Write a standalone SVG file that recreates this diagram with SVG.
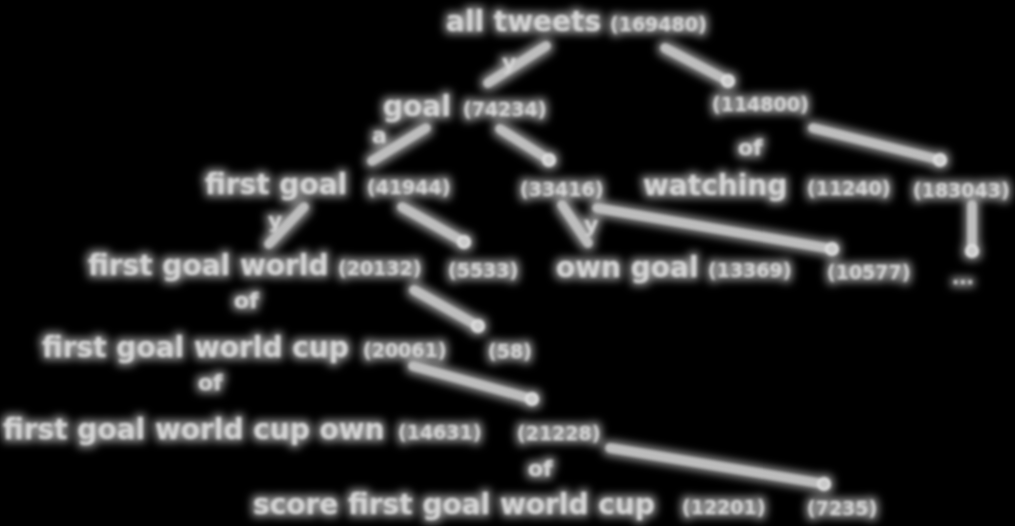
<svg xmlns="http://www.w3.org/2000/svg" width="1015" height="526" viewBox="0 0 1015 526">
<defs>
<filter id="glow" x="-10%" y="-30%" width="120%" height="160%">
<feMorphology in="SourceAlpha" operator="dilate" radius="2.5" result="d"/>
<feGaussianBlur in="d" stdDeviation="4" result="b"/>
<feFlood flood-color="#ffffff" flood-opacity="0.55"/>
<feComposite in2="b" operator="in" result="halo"/>
<feGaussianBlur in="SourceGraphic" stdDeviation="1.4" result="s"/>
<feMerge><feMergeNode in="halo"/><feMergeNode in="s"/></feMerge>
</filter>
<marker id="dot" viewBox="0 0 10 10" refX="5" refY="5" markerWidth="1.6" markerHeight="1.6" markerUnits="strokeWidth">
<circle cx="5" cy="5" r="4" fill="#c8c8c8" stroke="#e8e8e8" stroke-width="1.5"/>
</marker>
</defs>
<style>
text{font-family:"DejaVu Sans","Liberation Sans",sans-serif;font-weight:bold;fill:#d4d4d4}
.w{font-size:28px}
.c{font-size:19px}
.l{font-size:22px}
.e{stroke:#bdbdbd;stroke-width:9;stroke-linecap:round;fill:none}
.ed{marker-end:url(#dot)}
</style>
<rect width="1015" height="526" fill="#000"/>
<g filter="url(#glow)">
<g id="connectors">
<line class="e" x1="546" y1="46" x2="488" y2="83"/>
<line class="e ed" x1="665" y1="48" x2="728" y2="81"/>
<line class="e" x1="426" y1="128" x2="372" y2="161"/>
<line class="e ed" x1="500" y1="129" x2="549" y2="160"/>
<line class="e ed" x1="813" y1="128" x2="940" y2="160"/>
<line class="e" x1="304" y1="207" x2="269" y2="244"/>
<line class="e ed" x1="402" y1="207" x2="464" y2="242"/>
<line class="e" x1="562" y1="205" x2="588" y2="243"/>
<line class="e ed" x1="597" y1="208" x2="832" y2="249"/>
<line class="e ed" x1="972" y1="205" x2="972" y2="251"/>
<line class="e ed" x1="414" y1="290" x2="478" y2="326"/>
<line class="e ed" x1="413" y1="366" x2="532" y2="399"/>
<line class="e ed" x1="610" y1="448" x2="824" y2="484"/>
<text class="l" x="502" y="70">y</text>
<text class="l" x="372" y="143">a</text>
<text class="l" x="738" y="155">of</text>
<text class="l" x="268" y="228">y</text>
<text class="l" x="584" y="232">y</text>
<text class="l" x="234" y="308">of</text>
<text class="l" x="198" y="390">of</text>
<text class="l" x="528" y="476">of</text>
</g>
<g id="n-all"><text x="446" y="31"><tspan class="w">all tweets</tspan><tspan class="c" x="610">(169480)</tspan></text></g>
<g id="n-goal"><text x="383" y="116"><tspan class="w">goal</tspan><tspan class="c" x="463">(74234)</tspan></text></g>
<g id="n-r1"><text class="c" x="712" y="111">(114800)</text></g>
<g id="n-firstgoal"><text x="205" y="194"><tspan class="w">first goal</tspan><tspan class="c" x="367">(41944)</tspan></text></g>
<g id="n-r2"><text class="c" x="520" y="196">(33416)</text></g>
<g id="n-watching"><text x="643" y="195"><tspan class="w">watching</tspan><tspan class="c" x="807">(11240)</tspan></text></g>
<g id="n-r3"><text class="c" x="913" y="197">(183043)</text></g>
<g id="n-fgw"><text x="88" y="275"><tspan class="w">first goal world</tspan><tspan class="c" x="338">(20132)</tspan></text></g>
<g id="n-r4"><text class="c" x="448" y="277">(5533)</text></g>
<g id="n-owngoal"><text x="556" y="277"><tspan class="w">own goal</tspan><tspan class="c" x="708">(13369)</tspan></text></g>
<g id="n-r5"><text class="c" x="827" y="279">(10577)</text></g>
<g id="n-more"><text class="c" x="952" y="284">...</text></g>
<g id="n-fgwc"><text x="42" y="357"><tspan class="w">first goal world cup</tspan><tspan class="c" x="363">(20061)</tspan></text></g>
<g id="n-r6"><text class="c" x="488" y="358">(58)</text></g>
<g id="n-fgwco"><text x="3" y="439"><tspan class="w">first goal world cup own</tspan><tspan class="c" x="398">(14631)</tspan></text></g>
<g id="n-r7"><text class="c" x="517" y="440">(21228)</text></g>
<g id="n-sfgwc"><text x="253" y="514"><tspan class="w">score first goal world cup</tspan><tspan class="c" x="682">(12201)</tspan></text></g>
<g id="n-r8"><text class="c" x="807" y="515">(7235)</text></g>
</g>
</svg>
